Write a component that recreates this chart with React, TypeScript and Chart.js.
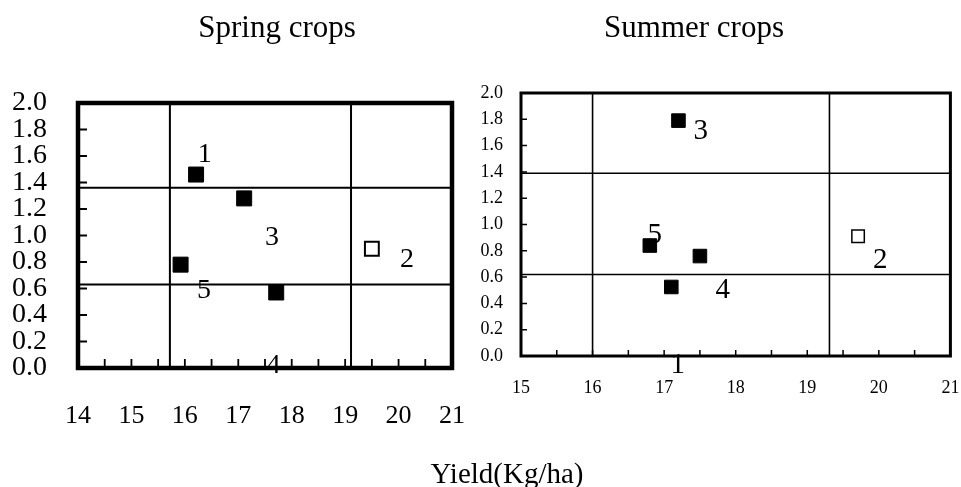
import React, { useEffect, useRef } from "react";
import { Chart, registerables } from "chart.js";

Chart.register(...registerables);

// ---------- Data: Spring crops ----------
const springFilledX = [16.21, 17.11, 15.92, 17.71];
const springFilledY = [1.46, 1.28, 0.78, 0.57];
const springOpenX = [19.5];
const springOpenY = [0.9];
const springMeanX = [15.72, 19.11];
const springMeanY = [1.36, 0.63];
const springLabelText = ["1", "3", "5", "4", "2"];
const springLabelX = [16.37, 17.63, 16.36, 17.66, 20.16];
const springLabelY = [1.61, 0.985, 0.585, 0.02, 0.815];
const springXRange = [14, 21];

// ---------- Data: Summer crops ----------
const summerFilledX = [17.2, 16.8, 17.5, 17.1];
const summerFilledY = [1.79, 0.84, 0.76, 0.525];
const summerOpenX = [19.71];
const summerOpenY = [0.91];
const summerMeanX = [16.0, 19.31];
const summerMeanY = [1.39, 0.62];
const summerLabelText = ["3", "5", "4", "1", "2"];
const summerLabelX = [17.51, 16.87, 17.82, 17.19, 20.02];
const summerLabelY = [1.71, 0.915, 0.5, -0.07, 0.73];
const summerXRange = [15, 21];

// ---------- Shared axis values ----------
const yRange = [0, 2];
const yStep = 0.2;
const xStep = 1;
const xMinorStep = 0.5;

const FONT = '"Liberation Serif", "Times New Roman", serif';

function zipPoints(xs: number[], ys: number[]) {
  return xs.map((x, i) => ({ x, y: ys[i] }));
}

function makeQuadPlugin(cfg: any) {
  return {
    id: "quad",
    beforeDatasetsDraw(chart: any) {
      const { ctx, scales } = chart;
      const xs = scales.x;
      const ys = scales.y;
      ctx.save();
      ctx.fillStyle = "#000";
      ctx.font = `${cfg.labelSize}px ${FONT}`;
      ctx.textAlign = "center";
      ctx.textBaseline = "middle";
      cfg.labelText.forEach((t: string, i: number) => {
        ctx.fillText(t, xs.getPixelForValue(cfg.labelX[i]), ys.getPixelForValue(cfg.labelY[i]));
      });
      ctx.restore();
    },
    afterDraw(chart: any) {
      const { ctx, chartArea: a, scales } = chart;
      const xs = scales.x;
      const ys = scales.y;
      ctx.save();
      ctx.strokeStyle = "#000";
      ctx.lineWidth = cfg.tickWidth;
      ctx.beginPath();
      const ny = Math.round((ys.max - ys.min) / yStep);
      for (let i = 1; i < ny; i++) {
        const p = ys.getPixelForValue(ys.min + i * yStep);
        ctx.moveTo(a.left, p);
        ctx.lineTo(a.left + cfg.tickLen, p);
      }
      const nx = Math.round((xs.max - xs.min) / xMinorStep);
      for (let i = 1; i < nx; i++) {
        const p = xs.getPixelForValue(xs.min + i * xMinorStep);
        ctx.moveTo(p, a.bottom);
        ctx.lineTo(p, a.bottom - cfg.tickLen);
      }
      ctx.stroke();
      ctx.lineWidth = cfg.frameWidth;
      ctx.strokeRect(a.left, a.top, a.right - a.left, a.bottom - a.top);
      ctx.restore();
    },
  };
}

function Panel(props: { cfg: any }) {
  const { cfg } = props;
  const ref = useRef<HTMLCanvasElement>(null);
  useEffect(() => {
    const lineSets: any[] = [];
    cfg.meanX.forEach((x: number) =>
      lineSets.push({
        data: [{ x, y: yRange[0] }, { x, y: yRange[1] }],
        showLine: true,
        borderColor: "#000",
        borderWidth: cfg.gridWidth,
        pointRadius: 0,
      })
    );
    cfg.meanY.forEach((y: number) =>
      lineSets.push({
        data: [{ x: cfg.xRange[0], y }, { x: cfg.xRange[1], y }],
        showLine: true,
        borderColor: "#000",
        borderWidth: cfg.gridWidth,
        pointRadius: 0,
      })
    );
    const chart = new Chart(ref.current!, {
      type: "scatter",
      data: {
        datasets: [
          ...lineSets,
          {
            data: zipPoints(cfg.filledX, cfg.filledY),
            pointStyle: "rect",
            pointRadius: cfg.filledR,
            backgroundColor: "#000",
            borderColor: "#000",
            borderWidth: 1,
          },
          {
            data: zipPoints(cfg.openX, cfg.openY),
            pointStyle: "rect",
            pointRadius: cfg.openR,
            backgroundColor: "#fff",
            borderColor: "#000",
            borderWidth: cfg.openBorder,
          },
        ],
      },
      options: {
        responsive: false,
        animation: false,
        events: [],
        layout: { padding: cfg.padding },
        plugins: { legend: { display: false }, tooltip: { enabled: false }, title: { display: false } },
        scales: {
          x: {
            type: "linear",
            min: cfg.xRange[0],
            max: cfg.xRange[1],
            grid: { display: false, drawTicks: false },
            border: { display: false },
            ticks: {
              stepSize: xStep,
              autoSkip: false,
              padding: cfg.xPad,
              color: "#000",
              font: { family: FONT, size: cfg.xFont },
              maxRotation: 0,
              callback: (v: any) => String(Math.round(Number(v))),
            },
            afterFit: (s: any) => {
              s.height = cfg.xHeight;
              s.paddingLeft = 0;
              s.paddingRight = 0;
            },
          },
          y: {
            type: "linear",
            min: yRange[0],
            max: yRange[1],
            grid: { display: false, drawTicks: false },
            border: { display: false },
            ticks: {
              stepSize: yStep,
              autoSkip: false,
              padding: cfg.yPad,
              color: "#000",
              font: { family: FONT, size: cfg.yFont },
              callback: (v: any) => Number(v).toFixed(1),
            },
            afterFit: (s: any) => {
              s.width = cfg.yWidth;
              s.paddingTop = 0;
              s.paddingBottom = 0;
            },
          },
        },
      },
      plugins: [makeQuadPlugin(cfg)],
    } as any);
    return () => chart.destroy();
  }, []);
  return (
    <canvas
      ref={ref}
      width={cfg.width}
      height={487}
      style={{ position: "absolute", left: cfg.left, top: 0, width: cfg.width, height: 487, display: "block" }}
    />
  );
}

const springCfg = {
  left: 0,
  width: 480,
  padding: { left: 0, right: 28, top: 103, bottom: 0 },
  yWidth: 78,
  xHeight: 119,
  yFont: 28,
  xFont: 26,
  yPad: 31,
  xPad: 33,
  xRange: springXRange,
  meanX: springMeanX,
  meanY: springMeanY,
  filledX: springFilledX,
  filledY: springFilledY,
  openX: springOpenX,
  openY: springOpenY,
  labelText: springLabelText,
  labelX: springLabelX,
  labelY: springLabelY,
  filledR: 10.6,
  openR: 9.8,
  openBorder: 2,
  gridWidth: 2,
  frameWidth: 4.5,
  tickLen: 9,
  tickWidth: 1.8,
  labelSize: 28,
};

const summerCfg = {
  left: 480,
  width: 481,
  padding: { left: 0, right: 10, top: 93, bottom: 0 },
  yWidth: 41,
  xHeight: 131,
  yFont: 18,
  xFont: 18,
  yPad: 18,
  xPad: 21,
  xRange: summerXRange,
  meanX: summerMeanX,
  meanY: summerMeanY,
  filledX: summerFilledX,
  filledY: summerFilledY,
  openX: summerOpenX,
  openY: summerOpenY,
  labelText: summerLabelText,
  labelX: summerLabelX,
  labelY: summerLabelY,
  filledR: 9.6,
  openR: 8.8,
  openBorder: 1.5,
  gridWidth: 1.6,
  frameWidth: 3,
  tickLen: 6,
  tickWidth: 1.5,
  labelSize: 29,
};

const textStyle = (left: number, top: number, size: number): React.CSSProperties => ({
  position: "absolute",
  left,
  top,
  transform: "translateX(-50%)",
  fontFamily: FONT,
  fontSize: size,
  lineHeight: `${size}px`,
  whiteSpace: "nowrap",
  color: "#000",
});

export default function App() {
  return (
    <div
      style={{
        position: "fixed",
        left: 0,
        top: 0,
        width: 961,
        height: 487,
        background: "#fff",
        overflow: "hidden",
      }}
    >
      <Panel cfg={springCfg} />
      <Panel cfg={summerCfg} />
      <div style={textStyle(277, 11, 31)}>Spring crops</div>
      <div style={textStyle(694, 11, 31)}>Summer crops</div>
      <div style={textStyle(507, 459, 29)}>Yield(Kg/ha)</div>
    </div>
  );
}
